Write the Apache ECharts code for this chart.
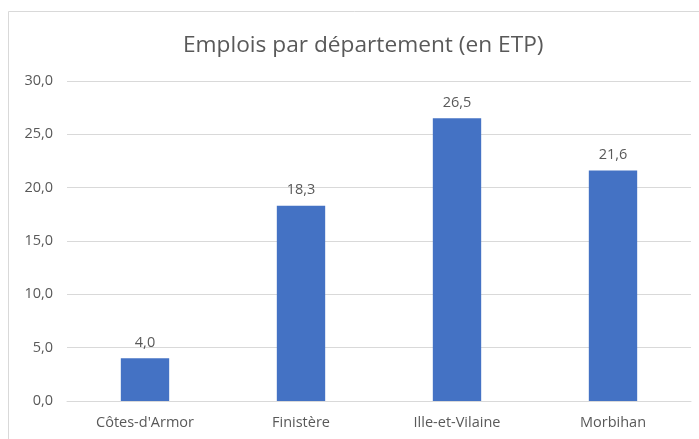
<!DOCTYPE html>
<html><head><meta charset="utf-8">
<script src="https://cdn.jsdelivr.net/npm/echarts@6/dist/echarts.min.js"></script>
<style>html,body{margin:0;padding:0;background:#fff}#c{width:699px;height:439px}</style>
</head><body><div id="c"></div>
<script>
const title = "Emplois par département (en ETP)";
const categories = ["Côtes-d'Armor", "Finistère", "Ille-et-Vilaine", "Morbihan"];
const values = [4.0, 18.3, 26.5, 21.6];
const fmt = v => v.toFixed(1).replace('.', ',');
const chart = echarts.init(document.getElementById('c'));
chart.setOption({
  animation: false,
  backgroundColor: '#fff',
  graphic: [{type:'rect', shape:{x:8.5,y:11.5,width:700,height:440}, style:{fill:'none', stroke:'#d9d9d9', lineWidth:1}}],
  title: {text: title, left: 178, top: 29, textStyle:{fontFamily:'Open Sans', fontWeight:'normal', fontSize:22.7, color:'#595959'}},
  grid: {left: 67, right: 8, top: 81, bottom: 38, containLabel: false},
  xAxis: {type:'category', data: categories,
    axisLine:{lineStyle:{color:'#d9d9d9'}}, axisTick:{show:false},
    axisLabel:{color:'#595959', fontFamily:'Open Sans', fontSize:14.5, margin:14}},
  yAxis: {type:'value', min:0, max:30, interval:5,
    axisLabel:{formatter: fmt, color:'#595959', fontFamily:'Open Sans', fontSize:14.5, margin:14},
    splitLine:{lineStyle:{color:'#d9d9d9'}}, axisLine:{show:false}, axisTick:{show:false}},
  series: [{type:'bar', data: values, barWidth:'31%', itemStyle:{color:'#4472C4'},
    label:{show:true, position:'top', formatter: p => fmt(p.value), color:'#595959', fontFamily:'Open Sans', fontSize:14.5, distance:8}}]
});
</script></body></html>
